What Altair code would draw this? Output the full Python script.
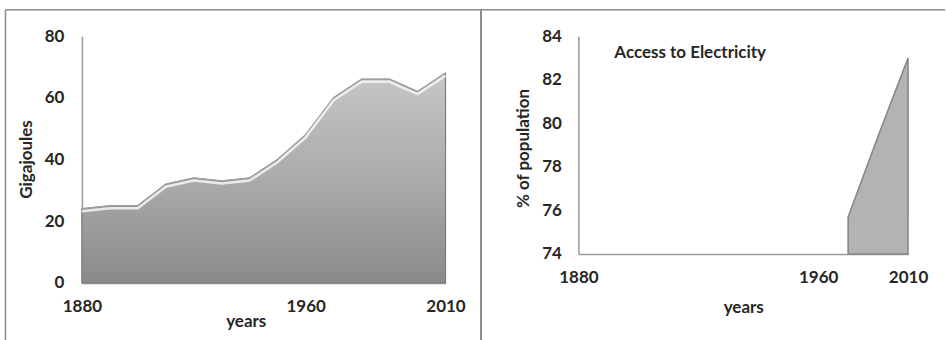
import altair as alt
import pandas as pd

# Energy use per person, by decade
energy_years = [1880, 1890, 1900, 1910, 1920, 1930, 1940,
                1950, 1960, 1970, 1980, 1990, 2000, 2010]
gigajoules = [24, 25, 25, 32, 34, 33, 34, 40, 48, 60, 66, 66, 62, 68]

# Share of population with access to electricity (no values before 1990)
elec_years = ["1880", "1890", "1900", "1910", "1920", "1930",
              "1940", "1950", "1960", "1990", "2000", "2010"]
elec_share = [None, None, None, None, None, None,
              None, None, None, 75.7, 79.4, 83.0]

energy_ticks = [1880, 1960, 2010]
elec_ticks = ["1880", "1960", "2010"]

FONT = "Lato"
TEXT = "#262626"
LINE = "#9a9a9a"
FS = 17

energy_df = pd.DataFrame({"year": energy_years, "gj": gigajoules})
elec_df = pd.DataFrame({"year": elec_years, "pct": elec_share})
one = pd.DataFrame({"k": [0]})

W1, H1 = 364, 247
W2, H2 = 330, 218

x1 = alt.X("year:Q",
           scale=alt.Scale(domain=[1880, 2010], nice=False, zero=False),
           axis=alt.Axis(values=energy_ticks, format="d", title="years",
                         titleX=164, titleY=44, titleBaseline="alphabetic",
                         labelPadding=16, labelFlush=False))
y1 = alt.Y("gj:Q", scale=alt.Scale(domain=[0, 80]),
           axis=alt.Axis(values=[0, 20, 40, 60, 80], title="Gigajoules",
                         titleX=-46, titleY=123, labelPadding=18))

gradient = alt.Gradient(
    gradient="linear", x1=0, x2=0, y1=0, y2=1,
    stops=[alt.GradientStop(color="#c6c6c6", offset=0),
           alt.GradientStop(color="#ababab", offset=0.5),
           alt.GradientStop(color="#8a8a8a", offset=1)])

energy_area = alt.Chart(energy_df).mark_area(
    color=gradient, stroke="#7c7c7c", strokeWidth=1.2
).encode(x=x1, y=y1)

energy_edge = alt.Chart(energy_df).mark_line(
    color="#9e9e9e", strokeWidth=1.5
).encode(x="year:Q", y="gj:Q")

energy_glow = alt.Chart(energy_df).mark_line(
    color="#f2f2f2", strokeWidth=2.5, yOffset=2.5, opacity=0.9
).encode(x="year:Q", y="gj:Q")

# panel frames
frame_left = alt.Chart(one).mark_rule(color="#8c8c8c", strokeWidth=1.5).encode(
    x=alt.value(-76.5), y=alt.value(-26.5), y2=alt.value(305))
frame_top = alt.Chart(one).mark_rule(color="#8c8c8c", strokeWidth=1.5).encode(
    x=alt.value(-76.5), x2=alt.value(864), y=alt.value(-26.5))
frame_mid = alt.Chart(one).mark_rule(color="#8c8c8c", strokeWidth=2).encode(
    x=alt.value(399.5), y=alt.value(-26.5), y2=alt.value(305))

left = alt.layer(energy_area, energy_edge, energy_glow,
                 frame_left, frame_top, frame_mid).properties(width=W1, height=H1)

x2 = alt.X("year:O", sort=elec_years,
           scale=alt.Scale(type="point", padding=0, domain=elec_years),
           axis=alt.Axis(values=elec_ticks, labelAngle=0, title="years",
                         titleX=165, titleY=59, titleBaseline="alphabetic",
                         labelPadding=16))
y2 = alt.Y("pct:Q", scale=alt.Scale(domain=[74, 84], zero=False, nice=False),
           axis=alt.Axis(values=[74, 76, 78, 80, 82, 84], title="% of population",
                         titleX=-46, titleY=112, labelPadding=17))

elec_area = alt.Chart(elec_df).mark_area(
    color="#b3b3b3", stroke="#858585", strokeWidth=1.5
).encode(x=x2, y=y2, y2=alt.datum(74))

elec_label = alt.Chart(one).mark_text(
    text="Access  to Electricity", align="left", baseline="alphabetic",
    font=FONT, fontSize=FS, fontWeight="bold", color=TEXT
).encode(x=alt.value(36), y=alt.value(22))

right = alt.layer(elec_area, elec_label).properties(width=W2, height=H2)

chart = alt.hconcat(left, right, spacing=133, bounds="flush").properties(
    padding={"left": 4, "top": 8, "right": 0, "bottom": 0},
    background="white",
).configure_view(stroke=None).configure_axis(
    grid=False, ticks=False, domainColor=LINE, domainWidth=1.5,
    labelFont=FONT, labelFontSize=FS, labelFontWeight="bold", labelColor=TEXT,
    titleFont=FONT, titleFontSize=FS, titleFontWeight="bold", titleColor=TEXT,
)

chart.save("out.html", embed_options={"renderer": "svg", "actions": False})
